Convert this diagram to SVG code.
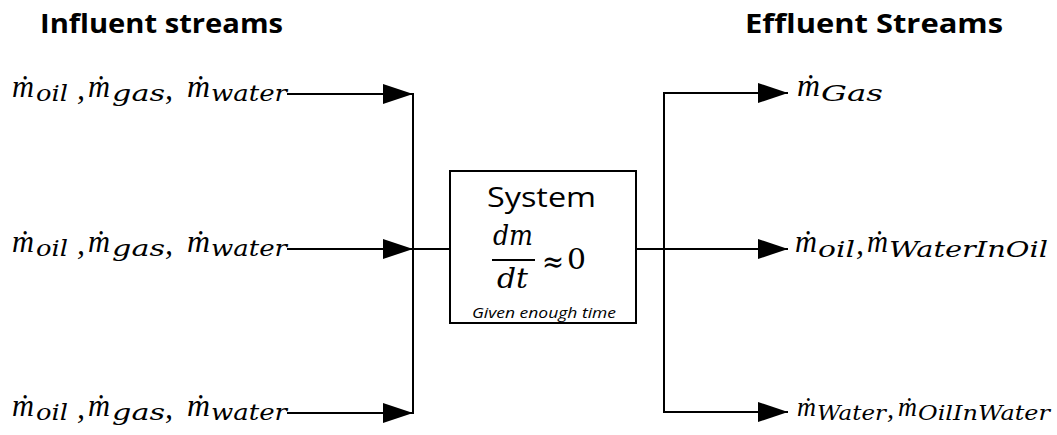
<svg xmlns="http://www.w3.org/2000/svg" width="1057" height="435" viewBox="0 0 1057 435">
<style>
.h{font-family:"Open Sans","Liberation Sans",sans-serif;font-weight:bold;font-size:27px;fill:#000}
.m{font-family:"Liberation Serif","DejaVu Serif",serif;font-style:italic;font-size:32px;fill:#000}
.s{font-family:"DejaVu Serif","Liberation Serif",serif;font-style:italic;font-size:23px;fill:#000}
.ms{font-family:"Liberation Serif","DejaVu Serif",serif;font-style:italic;font-size:28px;fill:#000}
.ss{font-family:"DejaVu Serif","Liberation Serif",serif;font-style:italic;font-size:20px;fill:#000}
.f{font-family:"DejaVu Serif","Liberation Serif",serif;font-style:italic;font-size:27px;fill:#000}
.c{fill:none;stroke:#000;stroke-width:2}
.a{marker-end:url(#ah)}
</style>
<defs>
<marker id="ah" markerUnits="userSpaceOnUse" markerWidth="30" markerHeight="20" refX="30" refY="10" orient="auto">
<path d="M0,0 L30,10 L0,20 z" fill="#000"/>
</marker>
</defs>
<g id="titles">
<text class="h" x="40" y="33" textLength="243" lengthAdjust="spacingAndGlyphs">Influent streams</text>
<text class="h" x="745" y="33" textLength="258" lengthAdjust="spacingAndGlyphs">Effluent Streams</text>
</g>
<g id="connectors">
<path class="c a" d="M287,94 H413"/>
<path class="c a" d="M287,249 H413"/>
<path class="c a" d="M287,413 H413"/>
<path class="c" d="M413,93 V414"/>
<path class="c" d="M413,249 H450"/>
<path class="c" d="M636,249 H664"/>
<path class="c" d="M664,92 V413"/>
<path class="c a" d="M663,93 H788"/>
<path class="c a" d="M664,249 H788"/>
<path class="c a" d="M663,412 H788"/>
</g>
<g id="in1">
<text class="m" x="12" y="97" textLength="22" lengthAdjust="spacingAndGlyphs">m&#x307;</text>
<text class="s" x="36" y="101" textLength="32" lengthAdjust="spacingAndGlyphs">oil</text>
<text class="m" x="77" y="99">,</text>
<text class="m" x="88" y="97" textLength="22" lengthAdjust="spacingAndGlyphs">m&#x307;</text>
<text class="s" x="112" y="101" textLength="53" lengthAdjust="spacingAndGlyphs">gas</text>
<text class="m" x="165" y="99">,</text>
<text class="m" x="187" y="97" textLength="23" lengthAdjust="spacingAndGlyphs">m&#x307;</text>
<text class="s" x="211" y="101" textLength="76" lengthAdjust="spacingAndGlyphs">water</text>
</g>
<g id="in2">
<text class="m" x="12" y="252" textLength="22" lengthAdjust="spacingAndGlyphs">m&#x307;</text>
<text class="s" x="36" y="256" textLength="32" lengthAdjust="spacingAndGlyphs">oil</text>
<text class="m" x="77" y="254">,</text>
<text class="m" x="88" y="252" textLength="22" lengthAdjust="spacingAndGlyphs">m&#x307;</text>
<text class="s" x="112" y="256" textLength="53" lengthAdjust="spacingAndGlyphs">gas</text>
<text class="m" x="165" y="254">,</text>
<text class="m" x="187" y="252" textLength="23" lengthAdjust="spacingAndGlyphs">m&#x307;</text>
<text class="s" x="211" y="256" textLength="76" lengthAdjust="spacingAndGlyphs">water</text>
</g>
<g id="in3">
<text class="m" x="12" y="416" textLength="22" lengthAdjust="spacingAndGlyphs">m&#x307;</text>
<text class="s" x="36" y="420" textLength="32" lengthAdjust="spacingAndGlyphs">oil</text>
<text class="m" x="77" y="418">,</text>
<text class="m" x="88" y="416" textLength="22" lengthAdjust="spacingAndGlyphs">m&#x307;</text>
<text class="s" x="112" y="420" textLength="53" lengthAdjust="spacingAndGlyphs">gas</text>
<text class="m" x="165" y="418">,</text>
<text class="m" x="187" y="416" textLength="23" lengthAdjust="spacingAndGlyphs">m&#x307;</text>
<text class="s" x="211" y="420" textLength="76" lengthAdjust="spacingAndGlyphs">water</text>
</g>
<g id="system">
<rect x="450" y="171" width="186" height="152" fill="#fff" stroke="#000" stroke-width="2"/>
<text x="487" y="207" font-family="'Open Sans','Liberation Sans',sans-serif" font-size="27" textLength="109" lengthAdjust="spacingAndGlyphs">System</text>
<text class="f" x="493" y="245" textLength="40" lengthAdjust="spacingAndGlyphs">dm</text>
<line x1="492" y1="260" x2="535" y2="260" stroke="#000" stroke-width="2"/>
<text class="f" x="497" y="288" textLength="31" lengthAdjust="spacingAndGlyphs">dt</text>
<text x="542" y="272" font-family="'DejaVu Serif',serif" font-size="30" textLength="22" lengthAdjust="spacingAndGlyphs">≈</text>
<text x="567" y="269" font-family="'DejaVu Serif',serif" font-size="27" textLength="19" lengthAdjust="spacingAndGlyphs">0</text>
<text x="472" y="318" font-family="'Open Sans','Liberation Sans',sans-serif" font-style="italic" font-size="14" textLength="144" lengthAdjust="spacingAndGlyphs">Given enough time</text>
</g>
<g id="out1">
<text class="m" x="797" y="96" textLength="23" lengthAdjust="spacingAndGlyphs">m&#x307;</text>
<text class="s" x="821" y="101" textLength="62" lengthAdjust="spacingAndGlyphs">Gas</text>
</g>
<g id="out2">
<text class="m" x="795" y="252" textLength="22" lengthAdjust="spacingAndGlyphs">m&#x307;</text>
<text class="s" x="818" y="257" textLength="37" lengthAdjust="spacingAndGlyphs">oil</text>
<text class="m" x="856" y="254">,</text>
<text class="m" x="867" y="252" textLength="21" lengthAdjust="spacingAndGlyphs">m&#x307;</text>
<text class="s" x="889" y="257" textLength="159" lengthAdjust="spacingAndGlyphs">WaterInOil</text>
</g>
<g id="out3">
<text class="ms" x="797" y="416" textLength="19" lengthAdjust="spacingAndGlyphs">m&#x307;</text>
<text class="ss" x="817" y="420" textLength="69" lengthAdjust="spacingAndGlyphs">Water</text>
<text class="ms" x="887" y="418">,</text>
<text class="ms" x="898" y="416" textLength="19" lengthAdjust="spacingAndGlyphs">m&#x307;</text>
<text class="ss" x="918" y="420" textLength="132" lengthAdjust="spacingAndGlyphs">OilInWater</text>
</g>
</svg>
